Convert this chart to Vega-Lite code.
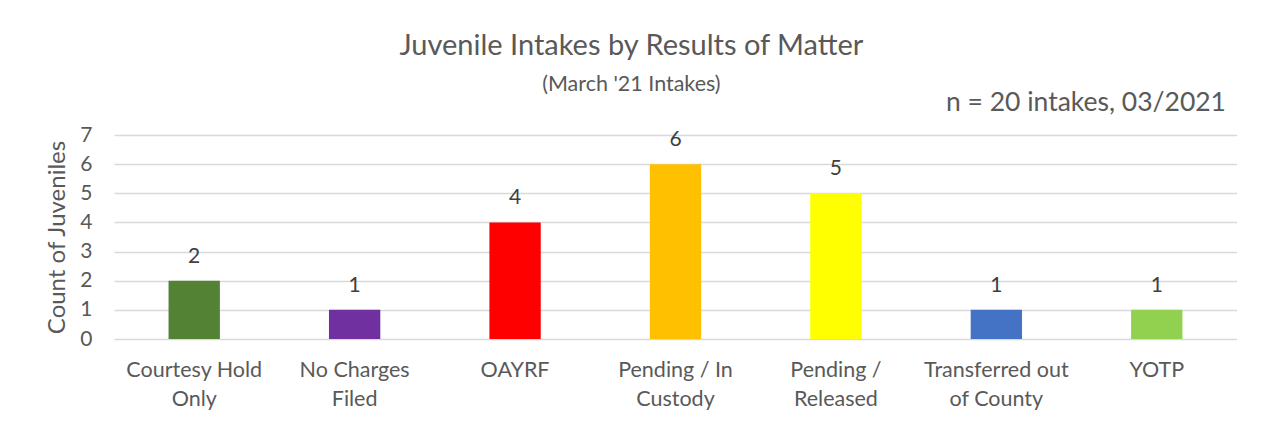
{
  "$schema": "https://vega.github.io/schema/vega-lite/v6.json",
  "padding": {"left": 45, "top": 32, "right": 0, "bottom": 0},
  "background": "white",
  "title": {
    "text": "Juvenile Intakes by Results of Matter",
    "subtitle": "(March '21 Intakes)",
    "anchor": "middle",
    "font": "Lato",
    "fontSize": 29,
    "fontWeight": "normal",
    "color": "#595959",
    "subtitleFont": "Lato",
    "subtitleFontSize": 21.5,
    "subtitleColor": "#595959",
    "subtitlePadding": 13,
    "offset": -6,
    "dx": -10
  },
  "data": {
    "values": [
      {"result": "Courtesy Hold Only", "count": 2},
      {"result": "No Charges Filed", "count": 1},
      {"result": "OAYRF", "count": 4},
      {"result": "Pending / In Custody", "count": 6},
      {"result": "Pending / Released", "count": 5},
      {"result": "Transferred out of County", "count": 1},
      {"result": "YOTP", "count": 1}
    ]
  },
  "vconcat": [
    {
      "width": 1123,
      "height": 204,
      "title": {
        "text": "n = 20 intakes, 03/2021",
        "anchor": "end",
        "font": "Lato",
        "fontSize": 26.5,
        "fontWeight": "normal",
        "color": "#595959",
        "offset": 8,
        "dx": -11
      },
      "encoding": {
        "x": {
          "field": "result",
          "type": "nominal",
          "sort": null,
          "scale": {"paddingInner": 0.68, "paddingOuter": 0.34},
          "axis": {
            "title": null,
            "labelAngle": 0,
            "labelFont": "Lato",
            "labelFontSize": 21.5,
            "labelColor": "#595959",
            "labelLineHeight": 29,
            "labelPadding": 20,
            "ticks": false,
            "domain": false,
            "labelExpr": "datum.value == 'Courtesy Hold Only' ? ['Courtesy Hold','Only'] : datum.value == 'No Charges Filed' ? ['No Charges','Filed'] : datum.value == 'Pending / In Custody' ? ['Pending / In','Custody'] : datum.value == 'Pending / Released' ? ['Pending /','Released'] : datum.value == 'Transferred out of County' ? ['Transferred out','of County'] : datum.value"
          }
        },
        "y": {
          "field": "count",
          "type": "quantitative",
          "scale": {"domain": [0, 7]},
          "axis": {
            "title": "Count of Juveniles",
            "titleFont": "Lato",
            "titleFontSize": 24,
            "titleFontWeight": "normal",
            "titleColor": "#595959",
            "titlePadding": 10,
            "values": [0, 1, 2, 3, 4, 5, 6, 7],
            "labelFont": "Lato",
            "labelFontSize": 21,
            "labelColor": "#595959",
            "labelPadding": 22,
            "ticks": false,
            "domain": false,
            "grid": true,
            "gridColor": "#d9d9d9",
            "gridWidth": 1.3
          }
        }
      },
      "layer": [
        {
          "mark": {"type": "bar"},
          "encoding": {
            "color": {
              "field": "result",
              "type": "nominal",
              "legend": null,
              "scale": {
                "domain": ["Courtesy Hold Only", "No Charges Filed", "OAYRF", "Pending / In Custody", "Pending / Released", "Transferred out of County", "YOTP"],
                "range": ["#548235", "#7030A0", "#FF0000", "#FFC000", "#FFFF00", "#4472C4", "#92D050"]
              }
            }
          }
        },
        {
          "mark": {"type": "text", "font": "Lato", "fontSize": 21, "color": "#404040", "baseline": "bottom", "dy": -14},
          "encoding": {"text": {"field": "count", "type": "quantitative"}}
        }
      ]
    }
  ],
  "config": {"view": {"stroke": null}}
}
